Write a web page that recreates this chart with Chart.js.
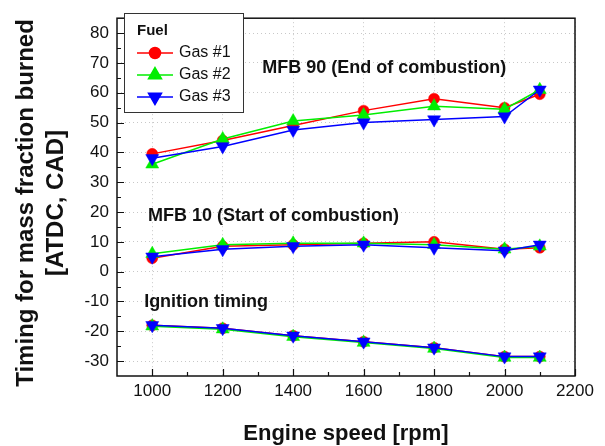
<!DOCTYPE html>
<html>
<head>
<meta charset="utf-8">
<script src="https://cdn.jsdelivr.net/npm/chart.js@4.4.1/dist/chart.umd.min.js"></script>
<style>
  html, body { margin: 0; padding: 0; background: #fff; }
</style>
</head>
<body>
<canvas id="chart" width="605" height="446"></canvas>
<script>
// engine speed (rpm) at each measured point
var engineSpeed = [1000, 1200, 1400, 1600, 1800, 2000, 2100];

// MFB 90 (end of combustion)
var gas1Mfb90 = [39.5, 44, 49, 54, 58, 55, 59.5];
var gas2Mfb90 = [36, 44.5, 50.5, 52.5, 55.5, 54.5, 61];
var gas3Mfb90 = [38, 42, 47.5, 50, 51, 52, 61];

// MFB 10 (start of combustion)
var gas1Mfb10 = [4.5, 8.5, 9, 9.5, 10, 7.5, 8];
var gas2Mfb10 = [6, 9, 9.5, 9.5, 9, 7.5, 8.5];
var gas3Mfb10 = [5, 7.5, 8.5, 9, 8, 7, 9];

// ignition timing
var gas1Ignition = [-18, -19, -21.5, -23.5, -25.5, -28.5, -28.5];
var gas2Ignition = [-18.3, -19.3, -21.8, -23.8, -25.8, -28.8, -28.8];
var gas3Ignition = [-18, -19, -21.5, -23.5, -25.5, -28.5, -28.5];

var xTickValues = [1000, 1200, 1400, 1600, 1800, 2000, 2200];
var yTickValues = [-30, -20, -10, 0, 10, 20, 30, 40, 50, 60, 70, 80];

var FONT = "'Liberation Sans', Arial, sans-serif";
Chart.defaults.font.family = FONT;

var gases = [
  { label: 'Gas #1', color: '#ff0000', style: 'circle',   radius: 5.5, rotation: 0,   order: 3, series: [gas1Mfb90, gas1Mfb10, gas1Ignition] },
  { label: 'Gas #2', color: '#00ee00', style: 'triangle', radius: 7.5, rotation: 0,   order: 2, series: [gas2Mfb90, gas2Mfb10, gas2Ignition] },
  { label: 'Gas #3', color: '#0000ff', style: 'triangle', radius: 7.5, rotation: 180, order: 1, series: [gas3Mfb90, gas3Mfb10, gas3Ignition] }
];

var datasets = [];
gases.forEach(function (g) {
  g.series.forEach(function (values) {
    datasets.push({
      label: g.label,
      data: values.map(function (v, i) { return { x: engineSpeed[i], y: v }; }),
      borderColor: g.color,
      backgroundColor: g.color,
      borderWidth: 1.5,
      pointStyle: g.style,
      pointRadius: g.radius,
      pointRotation: g.rotation,
      pointBorderWidth: 0.5,
      pointHoverRadius: g.radius,
      order: g.order,
      fill: false,
      tension: 0
    });
  });
});

// text written inside the plot, placed in data coordinates
var notes = [
  { text: 'MFB 90 (End of combustion)', x: 1312, y: 66.7 },
  { text: 'MFB 10 (Start of combustion)', x: 988, y: 16.9 },
  { text: 'Ignition timing', x: 977, y: -11.8 }
];

var decorations = {
  id: 'decorations',
  afterDraw: function (chart) {
    var ctx = chart.ctx;
    var a = chart.chartArea;
    var xs = chart.scales.x, ys = chart.scales.y;
    ctx.save();

    // inward ticks
    ctx.strokeStyle = '#111';
    ctx.lineWidth = 1.2;
    ctx.beginPath();
    for (var v = 1000; v <= 2200; v += 100) {
      var px = Math.round(xs.getPixelForValue(v)) + 0.5;
      var len = (v % 200 === 0) ? 7 : 4;
      ctx.moveTo(px, a.bottom);
      ctx.lineTo(px, a.bottom - len);
    }
    for (var w = -30; w <= 80; w += 5) {
      var py = Math.round(ys.getPixelForValue(w)) + 0.5;
      var l2 = (w % 10 === 0) ? 7 : 4;
      ctx.moveTo(a.left, py);
      ctx.lineTo(a.left + l2, py);
    }
    ctx.stroke();

    // frame
    ctx.lineWidth = 1.5;
    ctx.strokeRect(a.left, a.top, a.right - a.left, a.bottom - a.top);

    // notes
    ctx.fillStyle = '#111';
    ctx.font = 'bold 18px ' + FONT;
    ctx.textAlign = 'left';
    ctx.textBaseline = 'alphabetic';
    notes.forEach(function (n) {
      ctx.fillText(n.text, xs.getPixelForValue(n.x), ys.getPixelForValue(n.y));
    });

    // axis titles
    ctx.font = 'bold 22px ' + FONT;
    ctx.textAlign = 'center';
    ctx.fillText('Engine speed [rpm]', (a.left + a.right) / 2, 440);

    ctx.save();
    ctx.font = 'bold 24px ' + FONT;
    ctx.translate(33, 203);
    ctx.rotate(-Math.PI / 2);
    ctx.fillText('Timing for mass fraction burned', 0, 0);
    ctx.restore();
    ctx.save();
    ctx.font = 'bold 24px ' + FONT;
    ctx.translate(63, 203);
    ctx.rotate(-Math.PI / 2);
    ctx.fillText('[ATDC, CAD]', 0, 0);
    ctx.restore();

    // legend box
    var bx = 124, by = 13, bw = 119, bh = 99;
    ctx.fillStyle = '#fff';
    ctx.fillRect(bx, by, bw, bh);
    ctx.strokeStyle = '#333';
    ctx.lineWidth = 1;
    ctx.strokeRect(bx + 0.5, by + 0.5, bw, bh);
    ctx.fillStyle = '#111';
    ctx.font = 'bold 15px ' + FONT;
    ctx.textAlign = 'left';
    ctx.textBaseline = 'middle';
    ctx.fillText('Fuel', 137, 31);
    var rows = [53, 75, 97];
    gases.forEach(function (g, i) {
      var y = rows[i];
      ctx.strokeStyle = g.color;
      ctx.lineWidth = 1.5;
      ctx.beginPath();
      ctx.moveTo(137, y);
      ctx.lineTo(173, y);
      ctx.stroke();
      ctx.fillStyle = g.color;
      Chart.helpers.drawPoint(ctx, {
        pointStyle: g.style, radius: g.radius, rotation: g.rotation, borderWidth: 0.5
      }, 155, y);
      ctx.fillStyle = '#111';
      ctx.font = '16px ' + FONT;
      ctx.fillText(g.label, 179, y);
    });

    ctx.restore();
  }
};

new Chart(document.getElementById('chart'), {
  type: 'line',
  data: { datasets: datasets },
  options: {
    responsive: false,
    animation: false,
    layout: { padding: { top: 8, right: 30, left: 0, bottom: 0 } },
    plugins: { legend: { display: false }, tooltip: { enabled: false } },
    scales: {
      x: {
        type: 'linear',
        min: 900,
        max: 2200,
        afterBuildTicks: function (s) { s.ticks = xTickValues.map(function (v) { return { value: v }; }); },
        afterFit: function (s) { s.height = 70; },
        ticks: {
          font: { size: 17 }, color: '#111', padding: 5, maxRotation: 0, autoSkip: false,
          callback: function (v) { return String(v); }
        },
        grid: { color: '#c8c8c8', lineWidth: 1, drawTicks: false },
        border: { display: false, dash: [1, 3] }
      },
      y: {
        min: -35,
        max: 85,
        afterBuildTicks: function (s) { s.ticks = yTickValues.map(function (v) { return { value: v }; }); },
        afterFit: function (s) { s.width = 117; },
        ticks: {
          font: { size: 17 }, color: '#111', padding: 8, autoSkip: false,
          callback: function (v) { return String(v); }
        },
        grid: { color: '#c8c8c8', lineWidth: 1, drawTicks: false },
        border: { display: false, dash: [1, 3] }
      }
    }
  },
  plugins: [decorations]
});
</script>
</body>
</html>
